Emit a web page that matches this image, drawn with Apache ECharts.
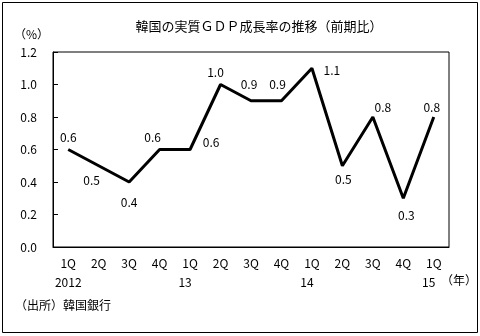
<!DOCTYPE html>
<html><head><meta charset="utf-8">
<script src="https://cdn.jsdelivr.net/npm/echarts@6/dist/echarts.min.js"></script>
<style>html,body{margin:0;padding:0;background:#fff}#c{width:480px;height:336px}</style>
</head><body><div id="c"></div>
<script>
const quarters = ['1Q','2Q','3Q','4Q','1Q','2Q','3Q','4Q','1Q','2Q','3Q','4Q','1Q'];
const years = ['2012','','','','13','','','','14','','','','15'];
const growth = [0.6, 0.5, 0.4, 0.6, 0.6, 1.0, 0.9, 0.9, 1.1, 0.5, 0.8, 0.3, 0.8];
const yTicks = [0.0, 0.2, 0.4, 0.6, 0.8, 1.0, 1.2];
const titleText = '韓国の実質ＧＤＰ成長率の推移（前期比）';
const unitText = '（%）';
const yearUnit = '（年）';
const sourceText = '（出所）韓国銀行';

// label placement (style, not data)
const labelOffsets = [[0,-12],[-7,15],[0,20],[-7,-12],[21,-7],[-5,-12],[-2,-16],[-4,-16],[20,2],[1,14],[10,-10],[3,17],[-2,-10]];

const FF = '"Noto Sans CJK JP", sans-serif';
const chart = echarts.init(document.getElementById('c'));
const cats = quarters.map((q,i)=> q + '\n' + years[i]);
chart.setOption({
  animation: false,
  backgroundColor: '#fff',
  grid: {left: 53, top: 52, right: 31, bottom: 89, show: true, borderColor: '#000', borderWidth: 1},
  title: {text: titleText, left: 254, top: 15, textAlign: 'center',
    textStyle: {fontFamily: FF, fontSize: 13, fontWeight: 'normal', color: '#000'}},
  xAxis: {type: 'category', data: cats, boundaryGap: true,
    axisLine: {lineStyle: {color: '#000', width: 1}},
    axisTick: {inside: true, length: 5, lineStyle: {color: '#000'}},
    axisLabel: {interval: 0, margin: 7, color: '#000', fontFamily: FF, fontSize: 12, lineHeight: 19,
      formatter: function(v){ const p = v.split('\n'); const s = p[1].length === 2 ? 'ys' : 'y'; return '{q|'+p[0]+'}\n{'+s+'|'+p[1]+'}'; },
      rich: {q: {fontFamily: FF, fontSize: 12, lineHeight: 19, color:'#000'},
             y: {fontFamily: FF, fontSize: 12, lineHeight: 19, color:'#000'},
             ys: {fontFamily: FF, fontSize: 12, lineHeight: 19, color:'#000', padding: [0, 10, 0, 0]}}},
    splitLine: {show: false}},
  yAxis: {type: 'value', min: 0, max: 1.2, interval: 0.2,
    axisLine: {show: true, lineStyle: {color: '#000', width: 1}},
    axisTick: {show: true, inside: true, length: 5, lineStyle: {color: '#000'}},
    axisLabel: {color: '#000', fontFamily: FF, fontSize: 12, margin: 16,
      formatter: v => yTicks.reduce((a,b)=> Math.abs(b-v)<Math.abs(a-v)?b:a).toFixed(1)},
    splitLine: {show: false}},
  series: [{type: 'line', symbol: 'circle', symbolSize: 1, showSymbol: true, showAllSymbol: true,
    itemStyle: {color: 'rgba(0,0,0,0)', borderWidth: 0},
    lineStyle: {color: '#000', width: 3},
    labelLayout: {hideOverlap: false},
    data: growth.map((v,i)=>({value: v, label: {show: true, position: [labelOffsets[i][0] + 0.5, labelOffsets[i][1] + 0.5], align: 'center', verticalAlign: 'middle'}})),
    label: {show: true, color: '#000', fontFamily: FF, fontSize: 12, align: 'center', verticalAlign: 'middle',
      formatter: p => p.value.toFixed(1)}}],
  graphic: [
    {type: 'rect', shape: {x: 2.5, y: 2.5, width: 475, height: 330}, style: {fill: 'none', stroke: '#000', lineWidth: 1}},
    {type: 'text', left: 14, top: 28, style: {text: unitText, font: '12px '+FF, fill: '#000'}},
    {type: 'text', left: 441, top: 274, style: {text: yearUnit, font: '12px '+FF, fill: '#000'}},
    {type: 'text', left: 15, top: 299, style: {text: sourceText, font: '12px '+FF, fill: '#000'}}
  ]
});
</script></body></html>
